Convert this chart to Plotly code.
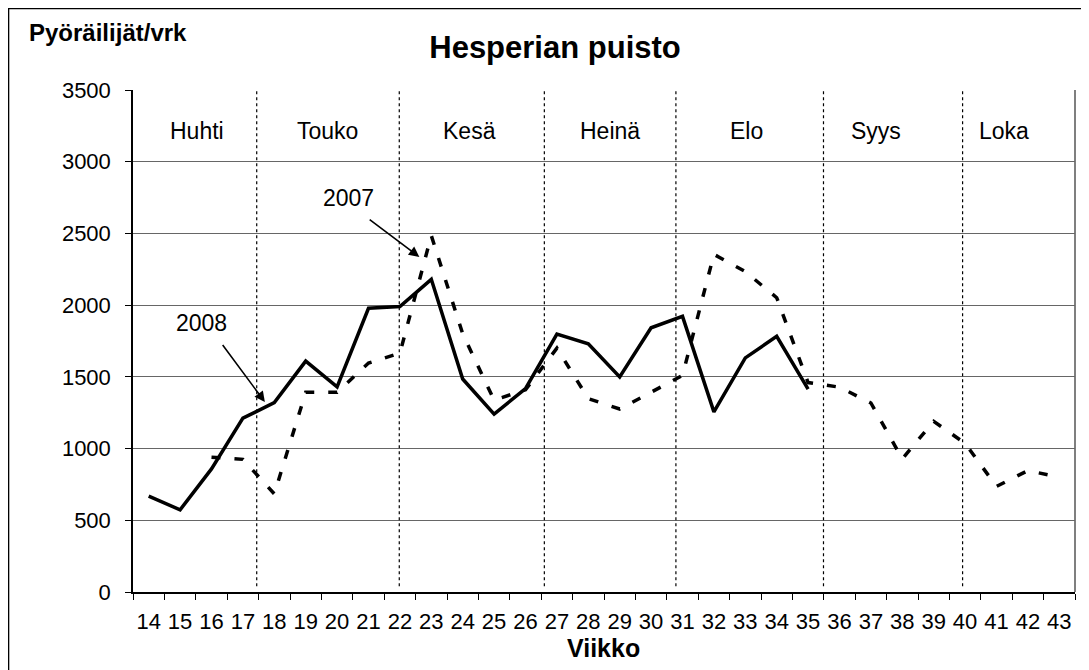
import plotly.graph_objects as go

# ---- data ----
weeks_2008 = list(range(14, 36))
riders_2008 = [668, 573, 858, 1212, 1320, 1610, 1430, 1978, 1990, 2180, 1485,
               1240, 1418, 1798, 1730, 1500, 1842, 1922, 1256, 1632, 1783, 1414]

weeks_2007 = list(range(16, 44))
riders_2007 = [940, 925, 684, 1392, 1392, 1596, 1665, 2485, 1800, 1338, 1410,
               1700, 1348, 1276, 1393, 1510, 2354, 2234, 2052, 1460, 1428, 1318,
               928, 1190, 1036, 736, 847, 800]

week_ticks = list(range(14, 44))
month_names = ["Huhti", "Touko", "Kesä", "Heinä", "Elo", "Syys", "Loka"]
month_label_x = [15.55, 19.71, 24.23, 28.69, 33.05, 37.15, 41.24]
month_label_y = 3213
month_bounds = [17.44, 21.98, 26.60, 30.79, 35.49, 39.92]

FONT = "Liberation Sans, Arial, sans-serif"
OFF = 8  # page body margin offset

fig = go.Figure()
fig.add_trace(go.Scatter(x=weeks_2007, y=riders_2007, mode="lines", name="2007",
                         line=dict(color="black", width=3.5, dash="9px,14px")))
fig.add_trace(go.Scatter(x=weeks_2008, y=riders_2008, mode="lines", name="2008",
                         line=dict(color="black", width=3.5)))

shapes = []
for b in month_bounds:
    shapes.append(dict(type="line", xref="x", yref="y", x0=b, x1=b, y0=40, y1=3500,
                       line=dict(color="black", width=1.2, dash="dot"), layer="between"))
# right frame of plot area
shapes.append(dict(type="line", xref="paper", yref="paper", x0=1, x1=1, y0=0, y1=1,
                   line=dict(color="#7f7f7f", width=2), layer="between"))
# outer border of chart (left and top visible)
shapes.append(dict(type="rect", xref="paper", yref="paper",
                   x0=-0.132, x1=1.05, y0=-0.2, y1=1.162,
                   line=dict(color="black", width=1.3), fillcolor="rgba(0,0,0,0)"))

annotations = []
for name, mx in zip(month_names, month_label_x):
    annotations.append(dict(x=mx, y=month_label_y, xref="x", yref="y", text=name,
                            showarrow=False, font=dict(size=23, color="black", family=FONT)))
# series labels with arrows
annotations.append(dict(x=20.35, y=2745, xref="x", yref="y", text="2007", showarrow=False,
                        font=dict(size=23, color="black", family=FONT)))
annotations.append(dict(x=22.62, y=2336, ax=20.99, ay=2604, xref="x", yref="y",
                        axref="x", ayref="y", text="", showarrow=True,
                        arrowhead=2, arrowsize=1.3, arrowwidth=1.6, arrowcolor="black"))
annotations.append(dict(x=15.69, y=1877, xref="x", yref="y", text="2008", showarrow=False,
                        font=dict(size=23, color="black", family=FONT)))
annotations.append(dict(x=17.70, y=1325, ax=16.32, ay=1732, xref="x", yref="y",
                        axref="x", ayref="y", text="", showarrow=True,
                        arrowhead=2, arrowsize=1.3, arrowwidth=1.6, arrowcolor="black"))
# axis titles
annotations.append(dict(x=-0.1125, y=1.1155, xref="paper", yref="paper", xanchor="left",
                        yanchor="middle", text="<b>Pyöräilijät/vrk</b>", showarrow=False,
                        font=dict(size=24, color="black", family=FONT)))
annotations.append(dict(x=0.499, y=-0.1116, xref="paper", yref="paper", xanchor="center",
                        yanchor="middle", text="<b>Viikko</b>", showarrow=False,
                        font=dict(size=25, color="black", family=FONT)))

fig.update_layout(
    width=1089, height=670,
    margin=dict(l=133 - OFF, r=14 + OFF, t=90 - OFF, b=78 + OFF),
    paper_bgcolor="white", plot_bgcolor="white",
    showlegend=False,
    title=dict(text="<b>Hesperian puisto</b>", x=(555 - OFF) / 1089, xanchor="center",
               y=1 - (47 - OFF) / 670, yanchor="middle",
               font=dict(size=31, color="black", family=FONT)),
    font=dict(family=FONT, color="black"),
    shapes=shapes, annotations=annotations,
    xaxis=dict(range=[13.5, 43.5], tickmode="array", tickvals=week_ticks,
               ticktext=[str(w) for w in week_ticks], ticks="",
               showgrid=False, zeroline=False, showline=True, linecolor="black", linewidth=1.5,
               tickfont=dict(size=22, color="black", family=FONT), ticklabelstandoff=9,
               minor=dict(tick0=13.5, dtick=1, ticks="outside", ticklen=6,
                          tickcolor="black", tickwidth=1.2, showgrid=False)),
    yaxis=dict(range=[0, 3500], tickmode="linear", tick0=0, dtick=500,
               ticks="outside", ticklen=6, tickcolor="black", tickwidth=1.2,
               showgrid=True, gridcolor="#666666", gridwidth=1,
               zeroline=False, showline=True, linecolor="black", linewidth=1.5,
               tickfont=dict(size=22, color="black", family=FONT), ticklabelstandoff=10),
)

fig.write_html("out.html")
